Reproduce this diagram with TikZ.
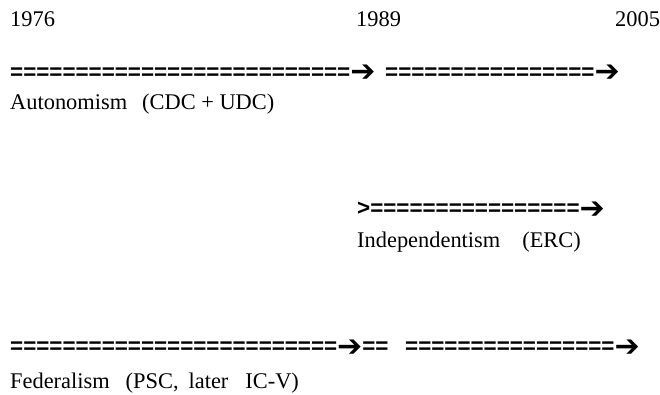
\documentclass[tikz,border=0pt]{standalone}
\usepackage{fontspec}
\setmainfont{Liberation Serif}
\newfontfamily\eqfont{Liberation Sans}
\newfontfamily\arrowfont{DejaVu Sans}
\usetikzlibrary{positioning}

\newcommand{\harr}{\raisebox{-2.5pt}{\fontsize{30}{30}\selectfont\arrowfont\bfseries ➔}}

\begin{document}
\begin{tikzpicture}[x=1pt,y=-1pt,
  every node/.style={inner sep=0pt,anchor=base west,font=\fontsize{22.4}{26}\selectfont},
  eqrow/.style={font=\fontsize{22.4}{26}\selectfont\eqfont\bfseries},
  party/.style={}]
  \useasboundingbox (0,0) rectangle (660,395);
  % years
  \foreach \name/\x/\txt in {ya/10/1976,yb/356/1989,yc/615/2005}{
    \node (\name) at (\x,27) {\txt};
  }
  % autonomism
  \node[eqrow] (aut1) at (10,79.5) {==========================\harr};
  \node[eqrow] (aut2) at (385,79.5) {================\harr};
  \node[party] (autl) at (10,110) {Autonomism\hspace{15pt}(CDC + UDC)};
  % independentism
  \node[eqrow] (ind) at (357,215.5) {>================\harr};
  \node[party] (indl) at (357,247) {Independentism\hspace{22pt}(ERC)};
  % federalism
  \node[eqrow] (fed1) at (10,353.5) {=========================\harr==};
  \node[eqrow] (fed2) at (405,353.5) {================\harr};
  \node[party] (fedl) at (10,388) {Federalism\hspace{16pt}(PSC,\hspace{10pt}later\hspace{17pt}IC-V)};
\end{tikzpicture}
\end{document}
